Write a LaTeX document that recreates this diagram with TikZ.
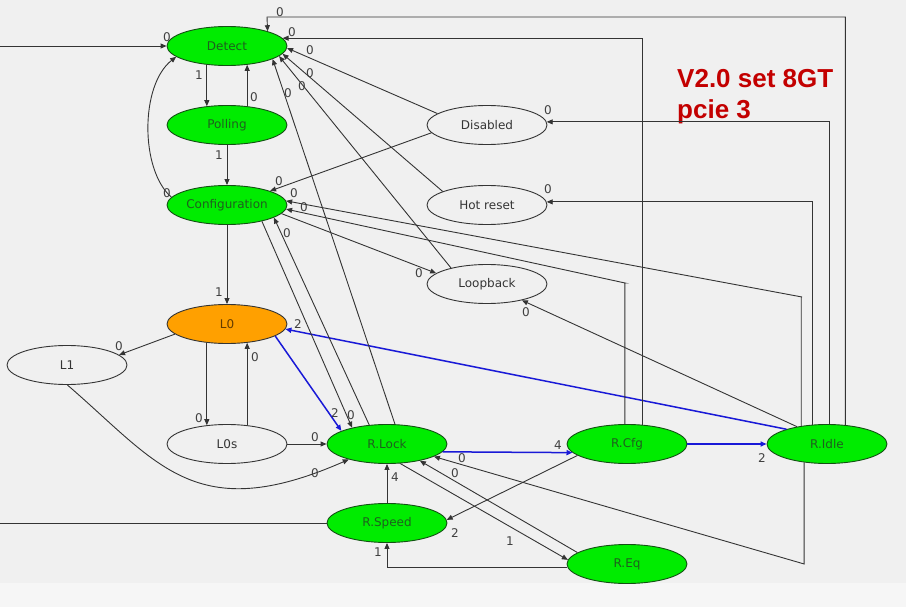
\documentclass[tikz,border=0pt]{standalone}
\usepackage{fontspec}
\setmainfont{DejaVu Sans}
\newfontfamily\bannerfont{Liberation Sans}
\usetikzlibrary{shapes.geometric,arrows.meta}
\definecolor{canvasgray}{RGB}{240,240,240}
\definecolor{footgray}{RGB}{246,246,246}
\definecolor{stategreen}{RGB}{0,236,0}
\definecolor{greenrim}{RGB}{20,80,20}
\definecolor{greenink}{RGB}{30,95,30}
\definecolor{lzerofill}{RGB}{255,160,0}
\definecolor{lzeroink}{RGB}{100,60,0}
\definecolor{wireink}{RGB}{52,52,52}
\definecolor{labelink}{RGB}{64,64,64}
\definecolor{linkblue}{RGB}{25,25,215}
\definecolor{bannerred}{RGB}{195,0,0}

\begin{document}
\begin{tikzpicture}[x=1pt,y=-1pt,
  idlestate/.style={ellipse,draw=wireink,line width=0.9pt,minimum width=120pt,minimum height=39pt,inner sep=0pt,font=\fontsize{12}{12}\selectfont,text=wireink},
  greenstate/.style={idlestate,fill=stategreen,draw=greenrim,text=greenink},
  wire/.style={draw=wireink,line width=0.9pt,-{Triangle[length=6pt,width=5pt]}},
  fastwire/.style={wire,draw=linkblue,line width=1.5pt},
  lbl/.style={font=\fontsize{12}{12}\selectfont,text=labelink,inner sep=0pt}]
  \useasboundingbox (0,0) rectangle (906,607);
  \fill[canvasgray] (0,0) rectangle (906,607);
  \fill[footgray] (0,583) rectangle (906,607);

  \node[greenstate] (detect) at (227,46) {Detect};
  \node[greenstate] (polling) at (227,125) {Polling};
  \node[greenstate] (config) at (227,205) {Configuration};
  \node[idlestate,fill=lzerofill,text=lzeroink] (lzero) at (227,324) {L0};
  \node[idlestate] (lone) at (67,365) {L1};
  \node[idlestate] (lzeros) at (227,444) {L0s};
  \node[greenstate] (rlock) at (387,444) {R.Lock};
  \node[greenstate] (rspeed) at (387,523) {R.Speed};
  \node[greenstate] (req) at (627,564) {R.Eq};
  \node[greenstate] (rcfg) at (627,444) {R.Cfg};
  \node[greenstate] (ridle) at (827,444) {R.Idle};
  \node[idlestate] (disabled) at (487,125) {Disabled};
  \node[idlestate] (hotreset) at (487,205) {Hot reset};
  \node[idlestate] (loopback) at (487,284) {Loopback};
  \node[anchor=north west,align=left,inner sep=0pt,text=bannerred,font=\bannerfont\bfseries\fontsize{26}{31}\selectfont] (banner) at (677,69) {V2.0 set 8GT\\pcie 3};

  \coordinate (edgeW) at (0,46);
  \coordinate (edgeS) at (0,523);
  \coordinate (topA) at (267,17);
  \coordinate (bendI) at (802,297);
  \coordinate (bendC) at (625,283);

  \draw[wire] (edgeW) -- (detect.west) node[lbl,at={(167,37)}] {0};
  \draw[wire] (detect.-137) -- (polling.137) node[lbl,at={(199,75)}] {1};
  \draw[wire] (polling.43) -- (detect.-43) node[lbl,at={(254,97)}] {0};
  \draw[wire] (polling.south) -- (config.north) node[lbl,at={(219,155)}] {1};
  \draw[wire] (config.south) -- (lzero.north) node[lbl,at={(219,292)}] {1};
  \draw[wire] (config.172) .. controls (140,170) and (140,85) .. (detect.-168) node[lbl,at={(167,193)}] {0};
  \draw[wire] (lzero.-169) -- (lone.11) node[lbl,at={(119,346)}] {0};
  \draw[wire] (lzero.-137) -- (lzeros.137) node[lbl,at={(199,418)}] {0};
  \draw[wire] (lzeros.43) -- (lzero.-43) node[lbl,at={(255,357)}] {0};
  \draw[wire] (lzeros.east) -- (rlock.west) node[lbl,at={(315,437)}] {0};
  \draw[wire] (lone.-89) .. controls (158,463) and (195,527) .. (rlock.-158) node[lbl,at={(315,473)}] {0};
  \draw[fastwire] (lzero.-14) -- (rlock.164) node[lbl,at={(335,413)}] {2};
  \draw[fastwire] (ridle.160) -- (lzero.-5) node[lbl,at={(298,324)}] {2};
  \draw[fastwire] (rlock.-8.3) -- (rcfg.-171.7) node[lbl,at={(558,445)}] {4};
  \draw[fastwire] (rcfg.east) -- (ridle.west) node[lbl,at={(762,458)}] {2};
  \draw[wire] (rcfg.-167) -- (rspeed.3) node[lbl,at={(455,533)}] {2};
  \draw[wire] (rlock.-56) -- (req.176) node[lbl,at={(510,541)}] {1};
  \draw[wire] (req.167) -- (rlock.-27) node[lbl,at={(455,473)}] {0};
  \draw[wire] (ridle.-141) -- (ridle.-141 |- req.center) -- (rlock.-15) node[lbl,at={(462,458)}] {0};
  \draw[wire] (rspeed.north) -- (rlock.south) node[lbl,at={(395,477)}] {4};
  \draw[wire] (req.183) -| (rspeed.south) node[lbl,at={(378,552)}] {1};
  \draw[draw=wireink,line width=0.9pt] (rspeed.west) -- (edgeS);
  \draw[wire] (ridle.46) |- (topA) -- (detect.20) node[lbl,at={(280,12)}] {0};
  \draw[wire] (rcfg.52) |- (detect.8) node[lbl,at={(292,32)}] {0};
  \draw[wire] (disabled.167) -- (detect.-2) node[lbl,at={(310,50)}] {0};
  \draw[wire] (hotreset.163) -- (detect.-8) node[lbl,at={(310,73)}] {0};
  \draw[wire] (loopback.156) -- (detect.-11) node[lbl,at={(302,86)}] {0};
  \draw[wire] (rlock.68) -- (detect.-16) node[lbl,at={(288,93)}] {0};
  \draw[wire] (disabled.-172) -- (config.18) node[lbl,at={(279,181)}] {0};
  \draw[wire] (ridle.145) |- (bendI) -- (config.4) node[lbl,at={(294,193)}] {0};
  \draw[wire] (rcfg.96) |- (bendC) -- (config.-4) node[lbl,at={(304,207)}] {0};
  \draw[wire] (config.-9) -- (loopback.168) node[lbl,at={(419,273)}] {0};
  \draw[wire] (config.-25) -- (rlock.155) node[lbl,at={(351,415)}] {0};
  \draw[wire] (rlock.133) -- (config.-15) node[lbl,at={(287,233)}] {0};
  \draw[wire] (ridle.84) |- (disabled.3) node[lbl,at={(548,110)}] {0};
  \draw[wire] (ridle.126) |- (hotreset.3) node[lbl,at={(548,189)}] {0};
  \draw[wire] (ridle.150) -- (loopback.-25) node[lbl,at={(526,312)}] {0};
\end{tikzpicture}
\end{document}
